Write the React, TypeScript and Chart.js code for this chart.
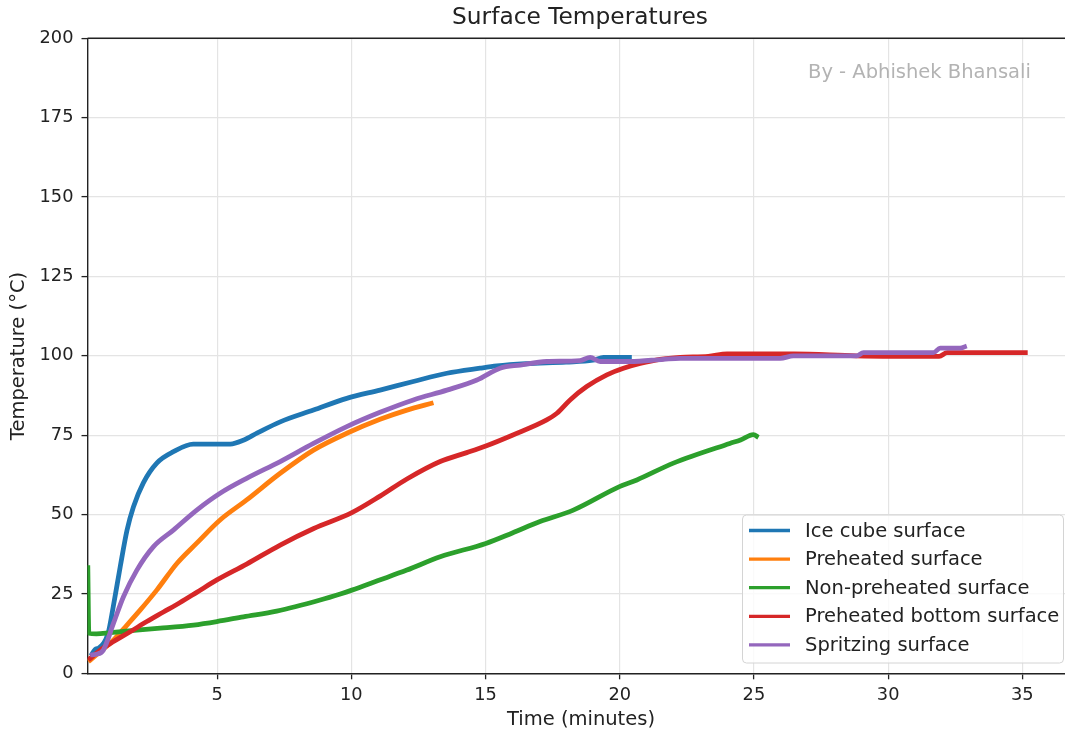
import React, { useEffect, useRef } from "react";
import { Chart, registerables } from "chart.js";

Chart.register(...registerables);

const seriesLabels = [
  "Ice cube surface",
  "Preheated surface",
  "Non-preheated surface",
  "Preheated bottom surface",
  "Spritzing surface",
];
const seriesColors = ["#1f77b4", "#ff7f0e", "#2ca02c", "#d62728", "#9467bd"];

const iceX = [0.3, 0.45, 0.6, 0.94, 1.13, 1.39, 1.64, 1.88, 2.25, 2.76, 3.37, 4.11, 5.49, 6.0, 6.5, 7.35, 8.59, 9.83, 11.07, 12.31, 13.56, 14.8, 15.42, 16.5, 18.0, 19.0, 19.4, 20.45];
const iceY = [5.5, 7.5, 8.0, 12.7, 21, 33.6, 45, 52.4, 60, 66.3, 69.8, 72.2, 72.2, 73.5, 75.7, 79.2, 82.9, 86.6, 89.2, 91.9, 94.5, 96.1, 96.8, 97.5, 98.0, 98.6, 99.5, 99.5];

const preX = [0.2, 0.64, 1.14, 1.64, 2.13, 2.75, 3.5, 4.24, 5.11, 6.1, 7.35, 8.59, 9.83, 11.07, 12.07, 13.06];
const preY = [3.7, 6.8, 10.5, 15.2, 19.9, 26.2, 34.6, 41, 48.3, 54.6, 63, 70.3, 75.6, 80.0, 82.9, 85.2];

const nonX = [0.18, 0.22, 0.5, 1.02, 2.0, 2.88, 4.12, 4.99, 5.98, 7.22, 8.84, 9.59, 10.02, 11.0, 12.07, 13.31, 15.01, 16.0, 17.03, 18.27, 19.99, 20.64, 22.0, 24.1, 24.5, 24.98, 25.17];
const nonY = [34, 12.6, 12.4, 12.8, 13.6, 14.2, 15.2, 16.3, 17.8, 19.6, 23.1, 25.0, 26.2, 29.2, 32.5, 36.7, 40.9, 44.2, 47.8, 51.4, 58.8, 60.9, 66.2, 72.4, 73.5, 75.2, 74.3];

const botX = [0.2, 0.64, 1.14, 1.76, 2.38, 3.0, 3.62, 4.24, 4.99, 6.1, 7.35, 8.6, 10.02, 11.07, 12.07, 13.31, 14.3, 15.01, 16.0, 17.28, 17.66, 18.15, 18.77, 19.52, 20.14, 20.76, 21.5, 22.25, 23.3, 24.0, 26.5, 28.8, 31.9, 32.2, 35.2];
const botY = [4.2, 7.3, 10, 13.1, 16.3, 19.3, 22.3, 25.5, 29.4, 34.4, 40.4, 45.6, 50.6, 55.8, 61.2, 66.7, 69.5, 71.6, 75, 79.8, 81.9, 86.1, 90.3, 94, 96.1, 97.6, 98.9, 99.5, 99.8, 100.6, 100.6, 100.0, 99.8, 101, 101];

const spzX = [0.27, 0.5, 0.76, 1.14, 1.51, 2.01, 2.63, 3.37, 4.24, 5.11, 6.1, 7.35, 8.59, 9.83, 11.07, 12.31, 13.56, 14.68, 15.54, 16.29, 17.28, 18.52, 18.9, 19.27, 20.39, 21.63, 22.25, 25.98, 26.47, 28.83, 29.08, 31.69, 31.94, 32.68, 32.93];
const spzY = [5.8, 6.0, 7.3, 15.8, 24.1, 32.5, 39.9, 45.1, 51.4, 56.7, 61.4, 66.7, 72.4, 77.7, 82.2, 86.1, 89.2, 92.4, 96.1, 97.1, 98.2, 98.5, 99.5, 98.2, 98.2, 98.9, 99.2, 99.2, 99.95, 99.95, 101, 101, 102.4, 102.4, 103.1];

const xTicks = [5, 10, 15, 20, 25, 30, 35];
const yTicks = [0, 25, 50, 75, 100, 125, 150, 175, 200];

const titleText = "Surface Temperatures";
const xLabelText = "Time (minutes)";
const yLabelText = "Temperature (°C)";
const watermarkText = "By - Abhishek Bhansali";

const FONT = "'DejaVu Sans', 'Noto Sans', sans-serif";

function pairs(xs: number[], ys: number[]) {
  return xs.map((x, i) => ({ x, y: ys[i] }));
}

const decorPlugin = {
  id: "decor",
  afterDraw(chart: any) {
    const ctx = chart.ctx as CanvasRenderingContext2D;
    const ca = chart.chartArea;
    ctx.save();
    // top spine
    ctx.strokeStyle = "#222";
    ctx.lineWidth = 1.4;
    ctx.beginPath();
    ctx.moveTo(ca.left, ca.top);
    ctx.lineTo(ca.right, ca.top);
    ctx.stroke();

    // title
    ctx.fillStyle = "#222";
    ctx.textAlign = "center";
    ctx.textBaseline = "middle";
    ctx.font = `23.3px ${FONT}`;
    ctx.fillText(titleText, 580, 18);

    // axis labels
    ctx.font = `19.5px ${FONT}`;
    ctx.fillText(xLabelText, 581, 720);
    ctx.save();
    ctx.translate(19, 356);
    ctx.rotate(-Math.PI / 2);
    ctx.fillText(yLabelText, 0, 0);
    ctx.restore();

    // watermark
    ctx.fillStyle = "#b3b3b3";
    ctx.textAlign = "left";
    ctx.font = `19.5px ${FONT}`;
    ctx.fillText(watermarkText, 808, 73);

    // legend
    const bx = 742.5, by = 515, bw = 321, bh = 148, r = 4;
    ctx.beginPath();
    ctx.moveTo(bx + r, by);
    ctx.lineTo(bx + bw - r, by);
    ctx.arcTo(bx + bw, by, bx + bw, by + r, r);
    ctx.lineTo(bx + bw, by + bh - r);
    ctx.arcTo(bx + bw, by + bh, bx + bw - r, by + bh, r);
    ctx.lineTo(bx + r, by + bh);
    ctx.arcTo(bx, by + bh, bx, by + bh - r, r);
    ctx.lineTo(bx, by + r);
    ctx.arcTo(bx, by, bx + r, by, r);
    ctx.closePath();
    ctx.fillStyle = "rgba(255,255,255,0.8)";
    ctx.fill();
    ctx.strokeStyle = "#d4d4d4";
    ctx.lineWidth = 1;
    ctx.stroke();

    ctx.font = `19.5px ${FONT}`;
    ctx.textBaseline = "middle";
    chart.data.datasets.forEach((ds: any, i: number) => {
      const yy = 530.5 + i * 28.6;
      ctx.strokeStyle = ds.borderColor;
      ctx.lineWidth = 3.3;
      ctx.beginPath();
      ctx.moveTo(749, yy);
      ctx.lineTo(790, yy);
      ctx.stroke();
      ctx.fillStyle = "#222";
      ctx.fillText(ds.label, 805, yy + 1);
    });
    ctx.restore();
  },
};

export default function App() {
  const ref = useRef<HTMLCanvasElement | null>(null);

  useEffect(() => {
    if (!ref.current) return;
    const xs = [iceX, preX, nonX, botX, spzX];
    const ys = [iceY, preY, nonY, botY, spzY];
    const datasets = seriesLabels.map((label, i) => ({
      label,
      data: pairs(xs[i], ys[i]),
      borderColor: seriesColors[i],
      backgroundColor: seriesColors[i],
      borderWidth: 4.8,
      pointRadius: 0,
      cubicInterpolationMode: "monotone" as const,
      borderJoinStyle: "round" as const,
      fill: false,
      order: seriesLabels.length - i,
    }));

    const tickFont = { family: FONT, size: 17.8 };
    const chart = new Chart(ref.current, {
      type: "line",
      data: { datasets },
      plugins: [decorPlugin],
      options: {
        animation: false,
        responsive: true,
        maintainAspectRatio: false,
        parsing: false as any,
        layout: { padding: { top: 38.3, left: 0, right: 0, bottom: 0 } },
        plugins: {
          legend: { display: false },
          title: { display: false },
          tooltip: { enabled: false },
        },
        scales: {
          x: {
            type: "linear",
            min: 0.17,
            max: 36.59,
            afterBuildTicks: (scale: any) => {
              scale.ticks = xTicks.map((v) => ({ value: v }));
            },
            afterFit: (scale: any) => {
              scale.height = 59.7;
            },
            grid: {
              color: "#e4e4e4",
              lineWidth: 1.2,
              tickLength: 6,
              tickColor: "#222",
              tickWidth: 1.3,
            },
            border: { display: true, color: "#222", width: 1.4 },
            ticks: { font: tickFont, color: "#222", padding: 5, maxRotation: 0 },
          },
          y: {
            type: "linear",
            min: 0,
            max: 200,
            afterBuildTicks: (scale: any) => {
              scale.ticks = yTicks.map((v) => ({ value: v }));
            },
            afterFit: (scale: any) => {
              scale.width = 87.5;
            },
            grid: {
              color: "#e4e4e4",
              lineWidth: 1.2,
              tickLength: 6,
              tickColor: "#222",
              tickWidth: 1.3,
            },
            border: { display: true, color: "#222", width: 1.4 },
            ticks: { font: tickFont, color: "#222", padding: 8 },
          },
        },
      },
    });
    return () => chart.destroy();
  }, []);

  return (
    <div
      style={{
        position: "fixed",
        left: 0,
        top: 0,
        width: 1065,
        height: 733,
        overflow: "hidden",
        background: "#fff",
      }}
    >
      <canvas ref={ref} />
    </div>
  );
}
